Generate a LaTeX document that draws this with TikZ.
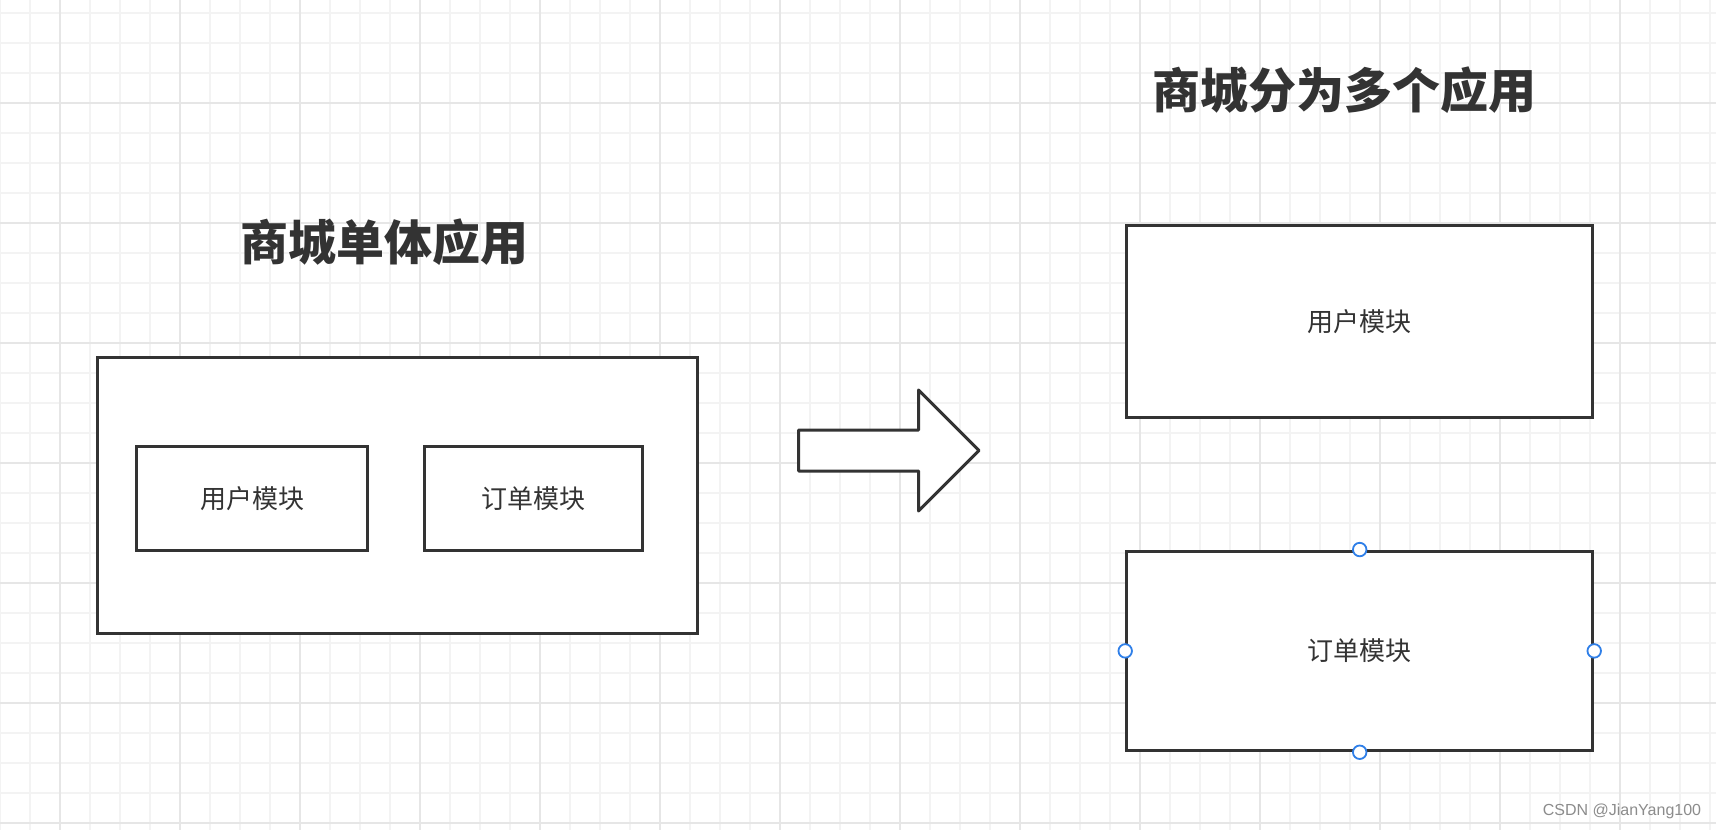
\documentclass[tikz,border=0pt]{standalone}
\usepackage{fontspec}
\newfontfamily\cjk{Noto Sans CJK SC}
\newfontfamily\wmfont{Liberation Sans}
\usetikzlibrary{arrows.meta}
\definecolor{ink}{HTML}{333333}
\definecolor{gridminor}{HTML}{F3F3F3}
\definecolor{gridmajor}{HTML}{E6E6E6}
\definecolor{handleblue}{HTML}{2F7FE8}
\tikzset{box/.style={rectangle,draw=ink,fill=white,line width=3pt,inner sep=0pt,font=\cjk\fontsize{26}{26}\selectfont,text=ink},
  title/.style={font=\cjk\bfseries\fontsize{48}{48}\selectfont,text=ink,inner sep=0pt},
  handle/.style={circle,draw=handleblue,fill=white,line width=1.8pt,minimum size=13.5pt,inner sep=0pt}}

\begin{document}
\begin{tikzpicture}[x=1pt,y=-1pt]
\useasboundingbox (0,0) rectangle (1716,830);
\fill[white] (0,0) rectangle (1716,830);
% grid
\foreach \gx in {0,30,...,1710} \draw[gridminor,line width=1.5pt] (\gx,0) -- (\gx,830);
\foreach \gy in {13,43,...,830} \draw[gridminor,line width=1.5pt] (0,\gy) -- (1716,\gy);
\foreach \gx in {60,180,...,1716} \draw[gridmajor,line width=1.5pt] (\gx,0) -- (\gx,830);
\foreach \gy in {103,223,...,830} \draw[gridmajor,line width=1.5pt] (0,\gy) -- (1716,\gy);
% monolith
\node[title] (monotitle) at (384,242) {商城单体应用};
\node[box,minimum width=600pt,minimum height=276pt] (mono) at (397.5,495.2) {};
\node[box,minimum width=230.6pt,minimum height=103.5pt] (userin) at (252,498.5) {用户模块};
\node[box,minimum width=218pt,minimum height=103.5pt] (orderin) at (533.3,498.5) {订单模块};
% big arrow
\draw[ink,line width=3pt,fill=white,line join=round] (798.5,430) -- (918.5,430) -- (918.5,390) -- (979,450.5) -- (918.5,511) -- (918.5,471) -- (798.5,471) -- cycle;
% split apps
\node[title] (splittitle) at (1344,90) {商城分为多个应用};
\node[box,minimum width=466pt,minimum height=192.3pt] (userapp) at (1359.7,321.2) {用户模块};
\node[box,minimum width=466pt,minimum height=199.7pt] (orderapp) at (1359.7,650.9) {订单模块};
\foreach \a in {north,south,east,west} \node[handle] at (orderapp.\a) {};
% watermark
\node[font=\wmfont\fontsize{16}{16}\selectfont,text=black!45] (mark) at (1622,811) {CSDN @JianYang100};
\end{tikzpicture}
\end{document}
